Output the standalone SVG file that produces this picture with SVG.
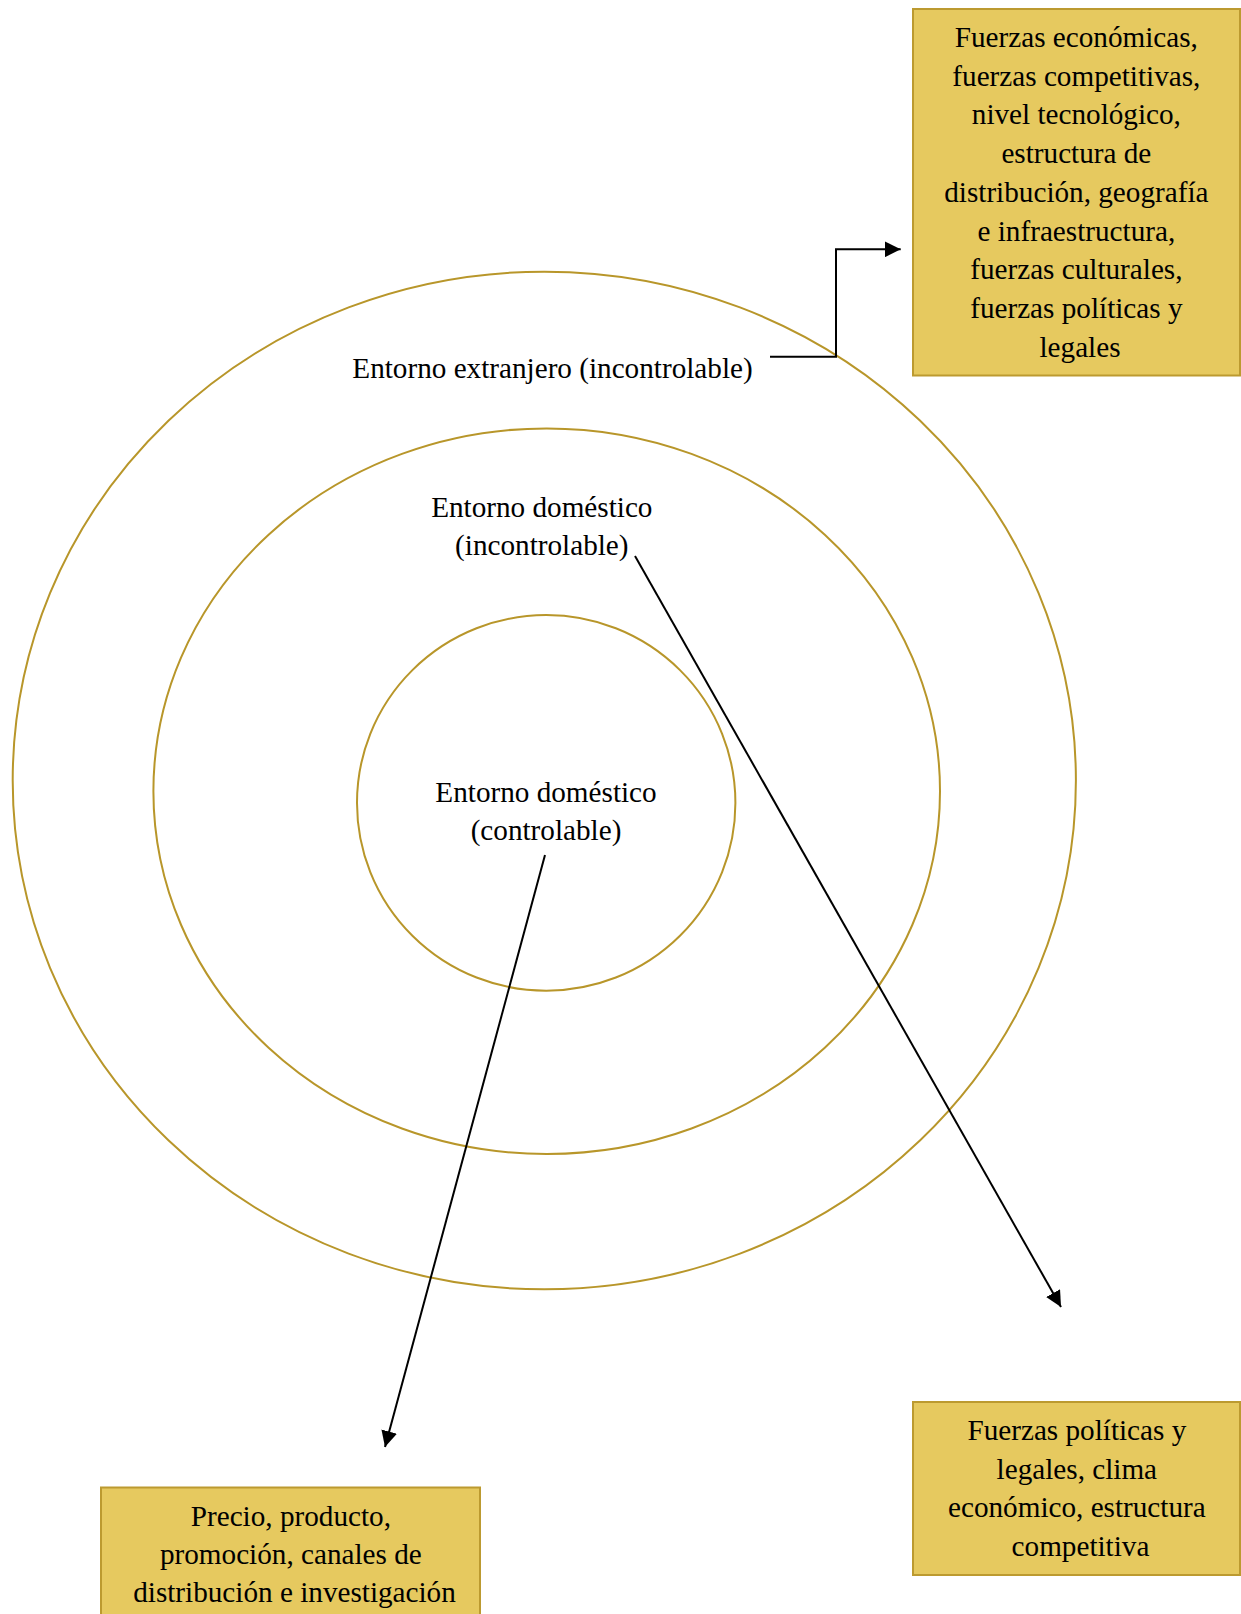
<svg xmlns="http://www.w3.org/2000/svg" width="1241" height="1614" viewBox="0 0 1241 1614">
  <style>
    .ring { fill: none; stroke: #B8962A; stroke-width: 2; }
    .box { fill: #E6C95F; stroke: #BC9A30; stroke-width: 2; }
    .label { font-family: "Liberation Serif", "Times New Roman", serif; font-size: 29.2px; fill: #000; text-anchor: middle; }
    .link { fill: none; stroke: #000; stroke-width: 2; }
  </style>
  <defs>
    <marker id="arrow" markerUnits="userSpaceOnUse" markerWidth="18" markerHeight="16" refX="16" refY="8" orient="auto">
      <path d="M0,0 L16,8 L0,16 Z" fill="#000"/>
    </marker>
  </defs>
  <rect width="1241" height="1614" fill="#fff"/>

  <!-- concentric environments -->
  <g id="outer-ring">
    <ellipse class="ring" cx="544.3" cy="780.5" rx="531.6" ry="508.8"/>
    <text class="label" x="552.5" y="378">Entorno extranjero (incontrolable)</text>
  </g>
  <g id="middle-ring">
    <ellipse class="ring" cx="546.7" cy="791.2" rx="393.3" ry="362.8"/>
    <text class="label" x="541.8" y="517">Entorno doméstico</text>
    <text class="label" x="541.8" y="555">(incontrolable)</text>
  </g>
  <g id="inner-ring">
    <ellipse class="ring" cx="546.2" cy="802.9" rx="189.2" ry="187.8"/>
    <text class="label" x="546" y="801.5">Entorno doméstico</text>
    <text class="label" x="546" y="839.5">(controlable)</text>
  </g>

  <!-- factor boxes -->
  <g id="foreign-factors">
    <rect class="box" x="913" y="9" width="327" height="366.5"/>
    <text class="label" x="1080">
      <tspan x="1080" y="47">Fuerzas económicas,</tspan>
      <tspan x="1080" y="85.7">fuerzas competitivas,</tspan>
      <tspan x="1080" y="124.4">nivel tecnológico,</tspan>
      <tspan x="1080" y="163.1">estructura de</tspan>
      <tspan x="1080" y="201.8">distribución, geografía</tspan>
      <tspan x="1080" y="240.5">e infraestructura,</tspan>
      <tspan x="1080" y="279.2">fuerzas culturales,</tspan>
      <tspan x="1080" y="317.9">fuerzas políticas y</tspan>
      <tspan x="1080" y="356.6">legales</tspan>
    </text>
  </g>
  <g id="domestic-uncontrollable-factors">
    <rect class="box" x="913" y="1402" width="327" height="173"/>
    <text class="label" x="1080.5">
      <tspan x="1080.5" y="1440">Fuerzas políticas y</tspan>
      <tspan x="1080.5" y="1478.7">legales, clima</tspan>
      <tspan x="1080.5" y="1517.4">económico, estructura</tspan>
      <tspan x="1080.5" y="1556.1">competitiva</tspan>
    </text>
  </g>
  <g id="domestic-controllable-factors">
    <rect class="box" x="101" y="1487.5" width="379" height="140"/>
    <text class="label" x="294.5">
      <tspan x="294.5" y="1525.5">Precio, producto,</tspan>
      <tspan x="294.5" y="1563.5">promoción, canales de</tspan>
      <tspan x="294.5" y="1601.5">distribución e investigación</tspan>
    </text>
  </g>

  <!-- connectors -->
  <g id="connectors">
    <path class="link" d="M770,356.7 H836 V249.3 H900.7" marker-end="url(#arrow)"/>
    <path class="link" d="M635,556 L1061,1307" marker-end="url(#arrow)"/>
    <path class="link" d="M545,855 L385,1447" marker-end="url(#arrow)"/>
  </g>
</svg>
